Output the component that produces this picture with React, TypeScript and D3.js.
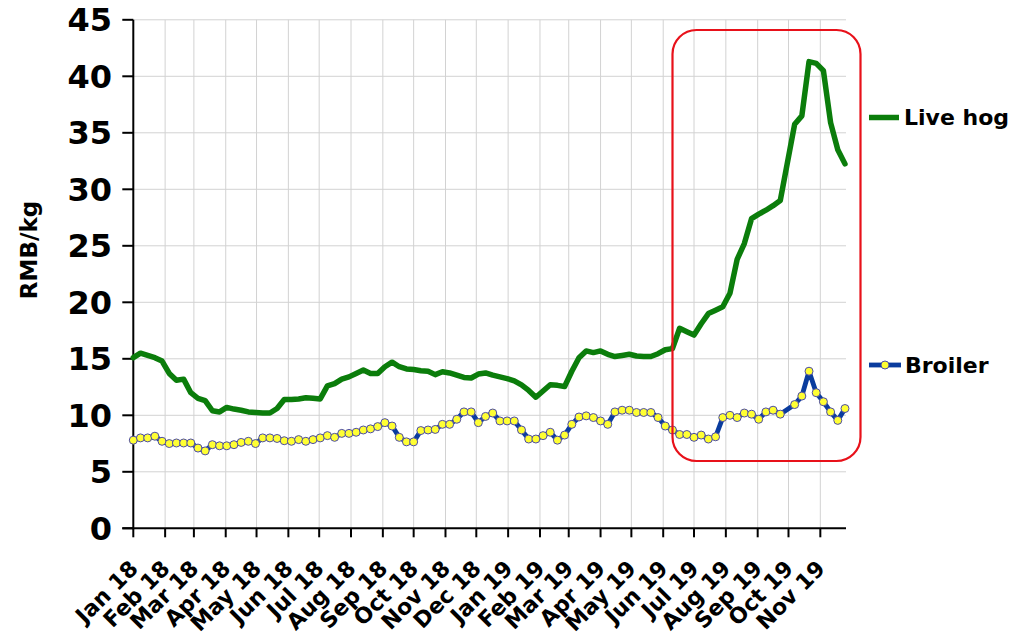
import React from "react";
import * as d3 from "d3";

// Weekly prices (RMB/kg), first week Mon 1 Jan 2018; one missing week (null) in late Oct 2019
const liveHog: (number | null)[] = [
  15.1, 15.5, 15.3, 15.1, 14.8, 13.7, 13.1, 13.2, 12.0, 11.5,
  11.3, 10.4, 10.3, 10.7, 10.55, 10.45, 10.3, 10.25, 10.2, 10.2,
  10.6, 11.4, 11.4, 11.45, 11.55, 11.5, 11.45, 12.6, 12.8, 13.2,
  13.4, 13.7, 14.0, 13.7, 13.7, 14.3, 14.7, 14.3, 14.1, 14.05,
  13.95, 13.9, 13.6, 13.85, 13.75, 13.55, 13.35, 13.3, 13.65, 13.75,
  13.55, 13.4, 13.25, 13.05, 12.7, 12.2, 11.6, 12.15, 12.7, 12.65,
  12.55, 13.9, 15.1, 15.7, 15.55, 15.7, 15.4, 15.2, 15.3, 15.4,
  15.25, 15.2, 15.2, 15.45, 15.8, 15.9, 17.7, 17.4, 17.1, 18.1,
  19.0, 19.3, 19.6, 20.8, 23.8, 25.2, 27.4, 27.8, 28.15, 28.55,
  29.0, null, 35.75, 36.5, 41.3, 41.15, 40.5, 35.9, 33.5, 32.25,
];

const broiler: (number | null)[] = [
  7.8, 8.0, 8.0, 8.15, 7.7, 7.5, 7.55, 7.55, 7.55, 7.1,
  6.85, 7.4, 7.3, 7.3, 7.4, 7.6, 7.7, 7.5, 8.0, 8.0,
  7.95, 7.75, 7.7, 7.85, 7.7, 7.85, 8.0, 8.2, 8.05, 8.4,
  8.4, 8.5, 8.7, 8.8, 9.0, 9.35, 9.05, 8.05, 7.65, 7.65,
  8.65, 8.7, 8.75, 9.2, 9.2, 9.65, 10.3, 10.3, 9.35, 9.9,
  10.2, 9.5, 9.5, 9.5, 8.7, 7.9, 7.9, 8.2, 8.5, 7.8,
  8.25, 9.2, 9.85, 9.95, 9.8, 9.5, 9.2, 10.3, 10.45, 10.45,
  10.25, 10.25, 10.25, 9.8, 9.05, 8.7, 8.3, 8.3, 8.05, 8.25,
  7.9, 8.1, 9.8, 10.0, 9.8, 10.2, 10.1, 9.65, 10.3, 10.45,
  10.1, null, 10.95, 11.7, 13.9, 12.0, 11.2, 10.3, 9.55, 10.6,
];

const monthLabels: string[] = [
  "Jan 18", "Feb 18", "Mar 18", "Apr 18", "May 18", "Jun 18", "Jul 18", "Aug 18",
  "Sep 18", "Oct 18", "Nov 18", "Dec 18", "Jan 19", "Feb 19", "Mar 19", "Apr 19",
  "May 19", "Jun 19", "Jul 19", "Aug 19", "Sep 19", "Oct 19", "Nov 19",
];

const yTicks: number[] = [0, 5, 10, 15, 20, 25, 30, 35, 40, 45];

const seriesNames = { hog: "Live hog", broiler: "Broiler" };
const yTitle = "RMB/kg";

const W = 1017;
const H = 638;
const FONT = "'DejaVu Sans', Verdana, sans-serif";

export default function App() {
  const start = new Date(2018, 0, 1);
  const end = new Date(2019, 10, 26);
  const weeks = d3.timeMonday.range(start, end);
  const monthTicks = d3.timeMonth.range(start, new Date(2019, 11, 1));

  const x = d3.scaleTime().domain([start, end]).range([133.3, 846]);
  const y = d3.scaleLinear().domain([0, 45]).range([528.3, 19.8]);

  type P = { d: Date; v: number };
  const toPts = (arr: (number | null)[]): P[] =>
    arr
      .map((v, i) => ({ d: weeks[i], v }))
      .filter((p) => p.v !== null && p.d !== undefined) as P[];

  const hogPts = toPts(liveHog);
  const brPts = toPts(broiler);

  const line = d3
    .line<P>()
    .x((p) => x(p.d))
    .y((p) => y(p.v));

  const x0 = x.range()[0];
  const x1 = x.range()[1];
  const y0 = y(0);
  const yTop = y(45);

  return (
    <svg
      width={W}
      height={H}
      style={{ position: "absolute", left: 0, top: 0, background: "#fff" }}
      fontFamily={FONT}
    >
      {/* gridlines */}
      <g stroke="#d2d2d2" strokeWidth={1}>
        {yTicks.filter((t) => t > 0).map((t) => (
          <line key={"hy" + t} x1={x0} x2={x1} y1={y(t)} y2={y(t)} />
        ))}
        {monthTicks.slice(1).map((d, i) => (
          <line key={"vx" + i} x1={x(d)} x2={x(d)} y1={yTop} y2={y0} />
        ))}
      </g>

      {/* axes */}
      <g stroke="#000" strokeWidth={2}>
        <line x1={x0} x2={x0} y1={yTop} y2={y0 + 1} />
        <line x1={x0 - 11} x2={x1} y1={y0} y2={y0} />
        {yTicks.map((t) => (
          <line key={"ty" + t} x1={x0 - 11} x2={x0} y1={y(t)} y2={y(t)} />
        ))}
        {monthTicks.map((d, i) => (
          <line key={"tx" + i} x1={x(d)} x2={x(d)} y1={y0} y2={y0 + 9} />
        ))}
      </g>

      {/* y tick labels */}
      <g fontWeight="bold" fontSize={32} textAnchor="end" fill="#000">
        {yTicks.map((t) => (
          <text key={"ly" + t} x={112} y={y(t)} dy="0.36em">
            {t}
          </text>
        ))}
      </g>

      {/* y title */}
      <text
        transform={`translate(37,250) rotate(-90)`}
        textAnchor="middle"
        fontWeight="bold"
        fontSize={23}
        fill="#000"
      >
        {yTitle}
      </text>

      {/* x tick labels */}
      <g fontWeight="bold" fontSize={22} textAnchor="end" fill="#000">
        {monthTicks.map((d, i) => (
          <text
            key={"lx" + i}
            transform={`translate(${x(d) + 6},570) rotate(-45)`}
          >
            {monthLabels[i]}
          </text>
        ))}
      </g>

      {/* series */}
      <path
        d={line(hogPts) || ""}
        fill="none"
        stroke="#0b7d0b"
        strokeWidth={5.5}
        strokeLinejoin="round"
        strokeLinecap="round"
      />
      <path
        d={line(brPts) || ""}
        fill="none"
        stroke="#0a3c9e"
        strokeWidth={4.8}
        strokeLinejoin="round"
      />
      <g fill="#ffff33" stroke="#4b4ba8" strokeWidth={1}>
        {brPts.map((p, i) => (
          <circle key={"c" + i} cx={x(p.d)} cy={y(p.v)} r={4} />
        ))}
      </g>

      {/* highlight box */}
      <rect
        x={672.5}
        y={30}
        width={188}
        height={431}
        rx={24}
        ry={24}
        fill="none"
        stroke="#e8111a"
        strokeWidth={2.2}
      />

      {/* legend */}
      <line x1={869} x2={899} y1={117.5} y2={117.5} stroke="#0b7d0b" strokeWidth={5.5} />
      <text x={904} y={117.5} dy="0.36em" fontWeight="bold" fontSize={22} fill="#000">
        {seriesNames.hog}
      </text>
      <line x1={869} x2={901} y1={365} y2={365} stroke="#0a3c9e" strokeWidth={4.8} />
      <circle cx={885} cy={365} r={4} fill="#ffff33" stroke="#4b4ba8" strokeWidth={1} />
      <text x={905} y={365} dy="0.36em" fontWeight="bold" fontSize={22} fill="#000">
        {seriesNames.broiler}
      </text>
    </svg>
  );
}
